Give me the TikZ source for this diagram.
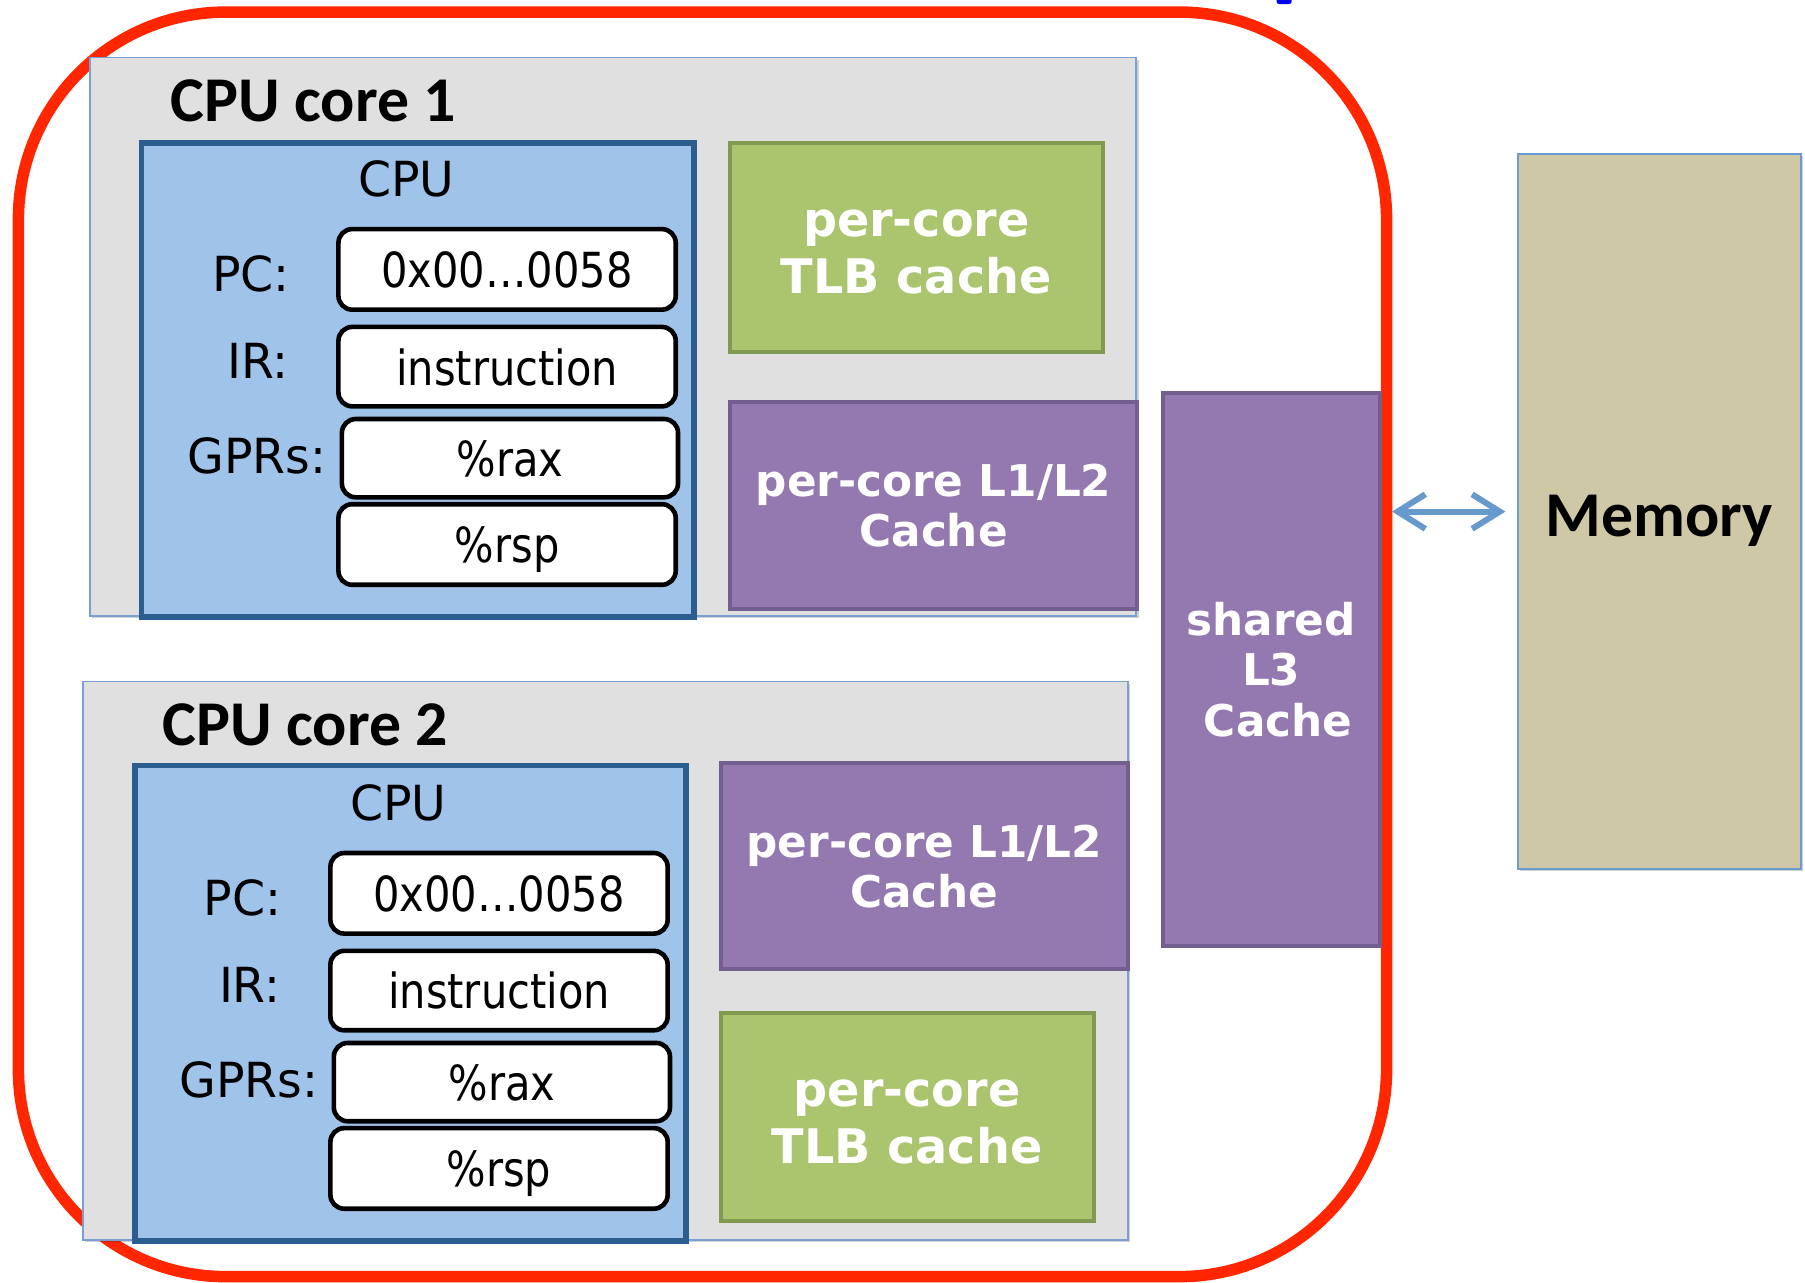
\documentclass[tikz,border=0pt]{standalone}
\usepackage{fontspec}
\usetikzlibrary{arrows.meta,shadows}

\newfontfamily\labelfont{DejaVu Sans}[FakeStretch=0.98]
\newfontfamily\valuefont{DejaVu Sans}[FakeStretch=0.86]
\newfontfamily\cachefont{DejaVu Sans}
\newfontfamily\titlefont{Carlito}

\definecolor{framered}{RGB}{255,38,0}
\definecolor{corefill}{RGB}{224,224,224}
\definecolor{coreedge}{RGB}{120,160,210}
\definecolor{cpufill}{RGB}{159,195,233}
\definecolor{cpuedge}{RGB}{44,93,143}
\definecolor{tlbfill}{RGB}{171,196,110}
\definecolor{tlbedge}{RGB}{129,153,80}
\definecolor{cachefill}{RGB}{147,121,175}
\definecolor{cacheedge}{RGB}{114,95,143}
\definecolor{memfill}{RGB}{206,200,166}
\definecolor{memedge}{RGB}{107,155,209}
\definecolor{linkblue}{RGB}{102,153,204}

\tikzset{
  softshadow/.style={drop shadow={shadow xshift=1pt, shadow yshift=-1pt,
    fill=black, opacity=0.18}},
  corebox/.style={rectangle, fill=corefill, draw=coreedge, line width=0.7pt,
    inner sep=0pt, minimum width=454.5pt, minimum height=242.5pt, softshadow},
  cpubox/.style={rectangle, fill=cpufill, draw=cpuedge, line width=2.5pt,
    inner sep=0pt, minimum width=240pt, minimum height=206pt},
  regbox/.style={rectangle, fill=white, draw=black, line width=2pt,
    rounded corners=6pt, inner sep=0pt, minimum width=146.5pt, minimum height=35pt,
    font=\valuefont\fontsize{21pt}{25pt}\selectfont, text height=16pt, text depth=0pt},
  reglabel/.style={inner sep=0pt, anchor=base east,
    font=\labelfont\fontsize{21pt}{25pt}\selectfont},
  cputitle/.style={inner sep=0pt, anchor=base,
    font=\labelfont\fontsize{21pt}{25pt}\selectfont},
  coretitle/.style={inner sep=0pt, anchor=base west,
    font=\titlefont\bfseries\fontsize{27.7pt}{33pt}\selectfont},
  tlbbox/.style={rectangle, fill=tlbfill, draw=tlbedge, line width=1.75pt,
    inner sep=0pt, minimum width=162pt, minimum height=91pt, text=white, align=center,
    font=\cachefont\bfseries\fontsize{20.7pt}{24.7pt}\selectfont},
  cachebox/.style={rectangle, fill=cachefill, draw=cacheedge, line width=1.75pt,
    inner sep=0pt, minimum width=177pt, minimum height=90pt, text=white, align=center,
    font=\cachefont\bfseries\fontsize{19pt}{21.7pt}\selectfont},
  membox/.style={rectangle, fill=memfill, draw=memedge, line width=0.8pt,
    inner sep=0pt, minimum width=123pt, minimum height=310.5pt,
    font=\titlefont\bfseries\fontsize{27.7pt}{33pt}\selectfont,
    text height=22pt, text depth=0pt, softshadow},
  link/.style={draw=linkblue, line width=2.6pt, line cap=round,
    {Straight Barb[length=12pt, width=15pt]}-{Straight Barb[length=12pt, width=15pt]}},
}

\begin{document}
\begin{tikzpicture}[x=0.5pt, y=-0.5pt]
\useasboundingbox (0,0) rectangle (1568,1114);

% chip outline
\draw[framered, line width=5pt, rounded corners=90pt] (16,10.5) rectangle (1204.5,1109);
\fill[blue, rounded corners=1pt] (1109,-2) rectangle (1122,3.5);

% ---- core 1 ----
\node[corebox] (core1) at (532.5,292.5) {};
\node[coretitle] (core1title) at (148,105.7) {CPU core 1};
\node[cpubox] (cpu1) at (363,330) {};
\node[cputitle] (cpu1title) at (353,171) {CPU};
\node[regbox] (pc1)  at (440.5,234)   {0x00…0058};
\node[regbox, minimum height=34.5pt] (ir1) at (440.5,318.5) {instruction};
\node[regbox, minimum width=146pt, minimum height=34pt] (rax1) at (443,398) {\%rax};
\node[regbox] (rsp1) at (440.5,473)   {\%rsp};
\node[reglabel] (pc1label)  at (252,253) {PC:};
\node[reglabel] (ir1label)  at (251,329) {IR:};
\node[reglabel] (gpr1label) at (284,411) {GPRs:};
\node[tlbbox] (tlb1) at (796,215) {\rule{0pt}{15.5pt}per-core\\TLB cache};
\node[cachebox] (l12a) at (811,439) {per-core L1/L2\\Cache};

% ---- core 2 ----
\node[corebox, minimum width=454pt] (core2) at (526,834.5) {};
\node[coretitle] (core2title) at (141,647.7) {CPU core 2};
\node[cpubox, minimum width=239.5pt, minimum height=206.5pt] (cpu2) at (356.5,871.5) {};
\node[cputitle] (cpu2title) at (346,713) {CPU};
\node[regbox] (pc2)  at (433.5,776)   {0x00…0058};
\node[regbox, minimum height=34.5pt] (ir2) at (433.5,860.5) {instruction};
\node[regbox, minimum width=146pt, minimum height=34pt] (rax2) at (436,940) {\%rax};
\node[regbox] (rsp2) at (433.5,1015)  {\%rsp};
\node[reglabel] (pc2label)  at (245,795) {PC:};
\node[reglabel] (ir2label)  at (244,871) {IR:};
\node[reglabel] (gpr2label) at (277,953) {GPRs:};
\node[cachebox, minimum height=89.5pt] (l12b) at (803,752.5) {per-core L1/L2\\Cache};
\node[tlbbox, minimum height=90.5pt] (tlb2) at (788,970.5) {\rule{0pt}{15.5pt}per-core\\TLB cache};

% ---- shared cache and memory ----
\node[cachebox, minimum width=94.25pt, minimum height=240pt,
      font=\cachefont\bfseries\fontsize{19pt}{22pt}\selectfont] (l3) at (1104.25,581.5)
      {shared\\L3\\\hspace*{6pt}Cache};
\node[membox] (mem) at (1441.5,444.4) {Memory};

\draw[link, shorten <=4.5pt, shorten >=5pt] (l3.east |- mem.west) -- (mem.west);
\end{tikzpicture}
\end{document}
